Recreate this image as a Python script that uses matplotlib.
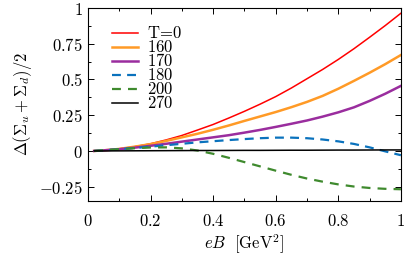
import matplotlib
matplotlib.use("Agg")
import matplotlib.pyplot as plt
from matplotlib.ticker import MultipleLocator

plt.rcParams['mathtext.fontset'] = 'cm'

# eB values (GeV^2) where the curves were read
eB = [0.02, 0.05, 0.1, 0.15, 0.2, 0.25, 0.3, 0.35, 0.4, 0.45, 0.5,
      0.55, 0.6, 0.65, 0.7, 0.75, 0.8, 0.85, 0.9, 0.95, 1.0]

# Delta(Sigma_u + Sigma_d)/2 for each temperature
t0 = [0.0, 0.004, 0.015, 0.03, 0.05, 0.077, 0.108, 0.146, 0.185, 0.23, 0.277,
      0.327, 0.38, 0.44, 0.505, 0.57, 0.64, 0.715, 0.795, 0.877, 0.963]
t160 = [0.0, 0.004, 0.014, 0.03, 0.048, 0.07, 0.095, 0.12, 0.148, 0.178, 0.21,
        0.241, 0.272, 0.306, 0.343, 0.385, 0.435, 0.49, 0.547, 0.607, 0.671]
t170 = [0.0, 0.004, 0.012, 0.023, 0.036, 0.05, 0.065, 0.08, 0.095, 0.11, 0.128,
        0.147, 0.168, 0.19, 0.213, 0.24, 0.27, 0.305, 0.35, 0.40, 0.455]
t180 = [0.0, 0.004, 0.012, 0.021, 0.03, 0.04, 0.05, 0.06, 0.068, 0.076, 0.083,
        0.089, 0.093, 0.093, 0.089, 0.08, 0.067, 0.049, 0.025, -0.003, -0.03]
t200 = [0.0, 0.005, 0.012, 0.019, 0.024, 0.025, 0.018, 0.003, -0.02, -0.048, -0.078,
        -0.108, -0.138, -0.167, -0.193, -0.215, -0.234, -0.249, -0.259, -0.265, -0.268]
t270 = [0.0, 0.0, 0.0005, 0.001, 0.0015, 0.002, 0.0025, 0.003, 0.003, 0.0035, 0.004,
        0.004, 0.0045, 0.005, 0.005, 0.0055, 0.006, 0.006, 0.0065, 0.007, 0.007]

labels = [r'$\mathrm{T}\!=\!0$', '$160$', '$170$', '$180$', '$200$', '$270$']

xticks = [0, 0.2, 0.4, 0.6, 0.8, 1]
xticklabels = ['$0$', '$0.2$', '$0.4$', '$0.6$', '$0.8$', '$1$']
yticks = [-0.25, 0, 0.25, 0.5, 0.75, 1]
yticklabels = ['$-0.25$', '$0$', '$0.25$', '$0.5$', '$0.75$', '$1$']

fig = plt.figure(figsize=(4.07, 2.57), dpi=100)
ax = fig.add_axes([0.216, 0.218, 0.769, 0.751])

ax.plot(eB, t0, color='#ff0000', lw=1.1, label=labels[0])
ax.plot(eB, t160, color='#ff9a26', lw=1.8, label=labels[1])
ax.plot(eB, t170, color='#9a2d9e', lw=1.8, label=labels[2])
ax.plot(eB, t180, color='#0a72bd', lw=1.6, dashes=(4, 2.8), label=labels[3])
ax.plot(eB, t200, color='#3f8a2e', lw=1.6, dashes=(4, 3.2), label=labels[4])
ax.plot(eB, t270, color='black', lw=1.1, label=labels[5])

ax.set_xlim(0, 1)
ax.set_ylim(-0.35, 1)
ax.set_xticks(xticks)
ax.set_xticklabels(xticklabels)
ax.set_yticks(yticks)
ax.set_yticklabels(yticklabels)
ax.xaxis.set_minor_locator(MultipleLocator(0.1))
ax.yaxis.set_minor_locator(MultipleLocator(0.125))
ax.tick_params(which='both', direction='in', top=True, right=True, labelsize=12)
ax.tick_params(which='major', length=4.5, width=0.7)
ax.tick_params(which='minor', length=2.5, width=0.7)
ax.tick_params(axis='x', pad=8)
for s in ax.spines.values():
    s.set_linewidth(0.8)

ax.set_xlabel(r'$eB\ \ [\mathrm{GeV}^2]$', fontsize=12, labelpad=2)
ax.set_ylabel(r'$\Delta(\Sigma_u+\Sigma_d)/2$', fontsize=12, labelpad=4)

ax.legend(loc='upper left', bbox_to_anchor=(0.04, 0.975), frameon=False,
          fontsize=12, handlelength=1.55, handletextpad=0.55, labelspacing=-0.24,
          borderpad=0.2)

fig.savefig('out.png', dpi=100)
